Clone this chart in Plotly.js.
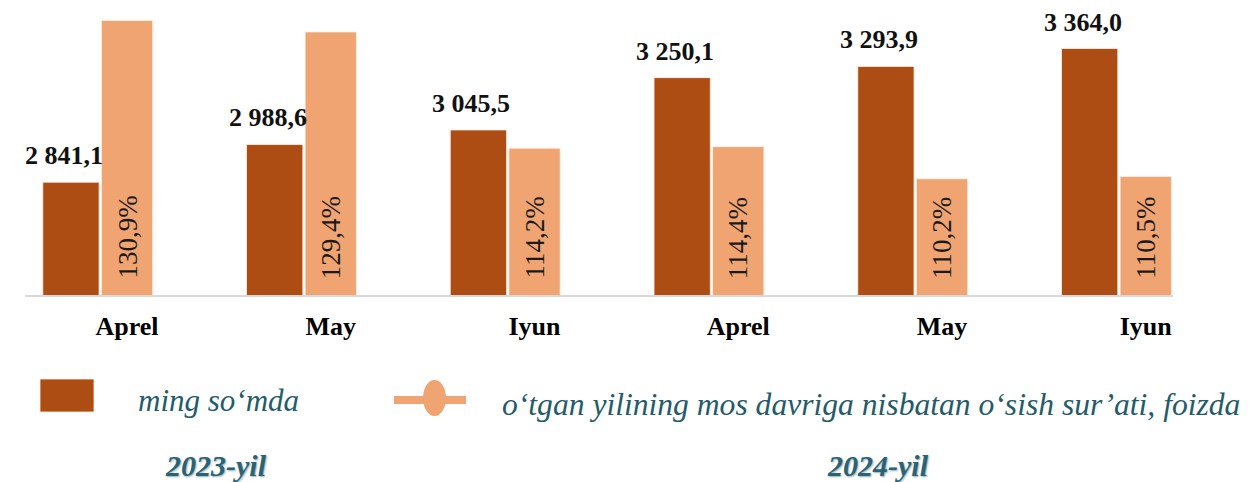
<!DOCTYPE html>
<html>
<head>
<meta charset="utf-8">
<script src="https://cdn.plot.ly/plotly-3.0.1.min.js"></script>
<style>html,body{margin:0;padding:0;background:#fff;}#chart{width:1251px;height:482px;}</style>
</head>
<body>
<div id="chart"></div>
<script>
// ---- data ----
const categories = ['Aprel', 'May', 'Iyun', 'Aprel', 'May', 'Iyun'];
const wageValues = [2841.1, 2988.6, 3045.5, 3250.1, 3293.9, 3364.0];
const growthValues = [130.9, 129.4, 114.2, 114.4, 110.2, 110.5];
const yearLabels = ['2023-yil', '2024-yil'];
const seriesNames = ['ming so‘mda', 'o‘tgan yilining mos davriga nisbatan o‘sish sur’ati, foizda'];

// ---- styling ----
const DARK = '#ad4d13';
const LIGHT = '#f0a472';
const TEAL = '#235b6b';
const SERIF = 'Liberation Serif';
const W = 1251, H = 482;
const M = {l: 25, r: 78, t: 10, b: 187};
const plotW = W - M.l - M.r, plotH = H - M.t - M.b;
const Y1MIN = 2400, Y1MAX = Y1MIN + plotH / 0.2557;
const Y2MIN = 95, Y2MAX = Y2MIN + plotH / 7.647;
const DARK_OFF = -0.2823, DARK_W = 0.2764;
const LIGHT_OFF = 0.0054, LIGHT_W = 0.2518;

const idx = categories.map((_, i) => i);
function fmtNum(v) {
  const parts = v.toFixed(1).split('.');
  const intPart = parts[0].replace(/\B(?=(\d{3})+(?!\d))/g, ' ');
  return intPart + ',' + parts[1];
}
function fmtPct(v) { return v.toFixed(1).replace('.', ',') + '%'; }
const px = x => (x - M.l) / plotW;
const py = y => (H - M.b - y) / plotH;

const traces = [
  {
    type: 'bar', name: seriesNames[0], x: idx, y: wageValues, yaxis: 'y',
    offset: DARK_OFF, width: DARK_W,
    marker: {color: DARK, line: {color: 'rgba(255,240,230,0.8)', width: 1}},
    hoverinfo: 'skip', showlegend: false
  },
  {
    type: 'bar', name: seriesNames[1], x: idx, y: growthValues, yaxis: 'y2',
    offset: LIGHT_OFF, width: LIGHT_W,
    marker: {color: LIGHT, line: {color: 'rgba(255,240,230,0.8)', width: 1}},
    hoverinfo: 'skip', showlegend: false
  }
];

const annotations = [];
idx.forEach(i => {
  annotations.push({
    xref: 'x', yref: 'y', x: i + DARK_OFF + DARK_W / 2, y: wageValues[i],
    text: fmtNum(wageValues[i]), showarrow: false, xanchor: 'center', yanchor: 'bottom',
    yshift: 10, xshift: -7,
    font: {family: SERIF, size: 26, weight: 'bold', color: '#111'}
  });
  annotations.push({
    xref: 'x', yref: 'y2', x: i + LIGHT_OFF + LIGHT_W / 2, y: Y2MIN,
    text: fmtPct(growthValues[i]), showarrow: false, textangle: -90,
    xanchor: 'center', yanchor: 'bottom', yshift: 14,
    font: {family: SERIF, size: 27, color: '#1a1a1a'}
  });
});
// legend texts
annotations.push({
  xref: 'paper', yref: 'paper', x: px(136), y: py(400), xanchor: 'left', yanchor: 'middle',
  text: seriesNames[0], showarrow: false,
  font: {family: SERIF, size: 31, style: 'italic', color: TEAL}
});
annotations.push({
  xref: 'paper', yref: 'paper', x: px(500), y: py(404), xanchor: 'left', yanchor: 'middle',
  text: seriesNames[1], showarrow: false,
  font: {family: SERIF, size: 31.6, style: 'italic', color: TEAL}
});
// year labels
[216, 878].forEach((cx, k) => {
  annotations.push({
    xref: 'paper', yref: 'paper', x: px(cx), y: py(465), xanchor: 'center', yanchor: 'middle',
    text: yearLabels[k], showarrow: false,
    font: {family: SERIF, size: 30, weight: 'bold', style: 'italic', color: '#2d6272',
           shadow: '1px 1px 2px #8fb0ba'}
  });
});

const shapes = [
  {type: 'rect', xref: 'paper', yref: 'paper', x0: px(40), x1: px(94), y0: py(379), y1: py(412),
   fillcolor: DARK, line: {color: 'rgba(255,240,230,0.8)', width: 1}},
  {type: 'line', xref: 'paper', yref: 'paper', x0: px(394), x1: px(466), y0: py(400), y1: py(400),
   line: {color: LIGHT, width: 8}},
  {type: 'circle', xref: 'paper', yref: 'paper', x0: px(423), x1: px(446), y0: py(380), y1: py(416),
   fillcolor: LIGHT, line: {width: 0}}
];

const layout = {
  width: W, height: H, margin: M,
  paper_bgcolor: '#fff', plot_bgcolor: '#fff',
  barmode: 'overlay', showlegend: false,
  font: {family: SERIF},
  xaxis: {
    type: 'linear', range: [(25 - 100.3) / 203.74, (1173 - 100.3) / 203.74],
    showline: true, linecolor: '#d9d9d9', linewidth: 1.5,
    showgrid: false, zeroline: false, ticks: '',
    tickvals: idx.map(i => i + 0.131), ticktext: categories,
    tickfont: {family: SERIF, size: 26, weight: 'bold', color: '#000'},
    ticklabelstandoff: 7
  },
  yaxis: {range: [Y1MIN, Y1MAX], visible: false, showgrid: false, zeroline: false},
  yaxis2: {range: [Y2MIN, Y2MAX], overlaying: 'y', visible: false, showgrid: false, zeroline: false},
  annotations: annotations, shapes: shapes
};

Plotly.newPlot('chart', traces, layout, {staticPlot: true, displayModeBar: false});
</script>
</body>
</html>
